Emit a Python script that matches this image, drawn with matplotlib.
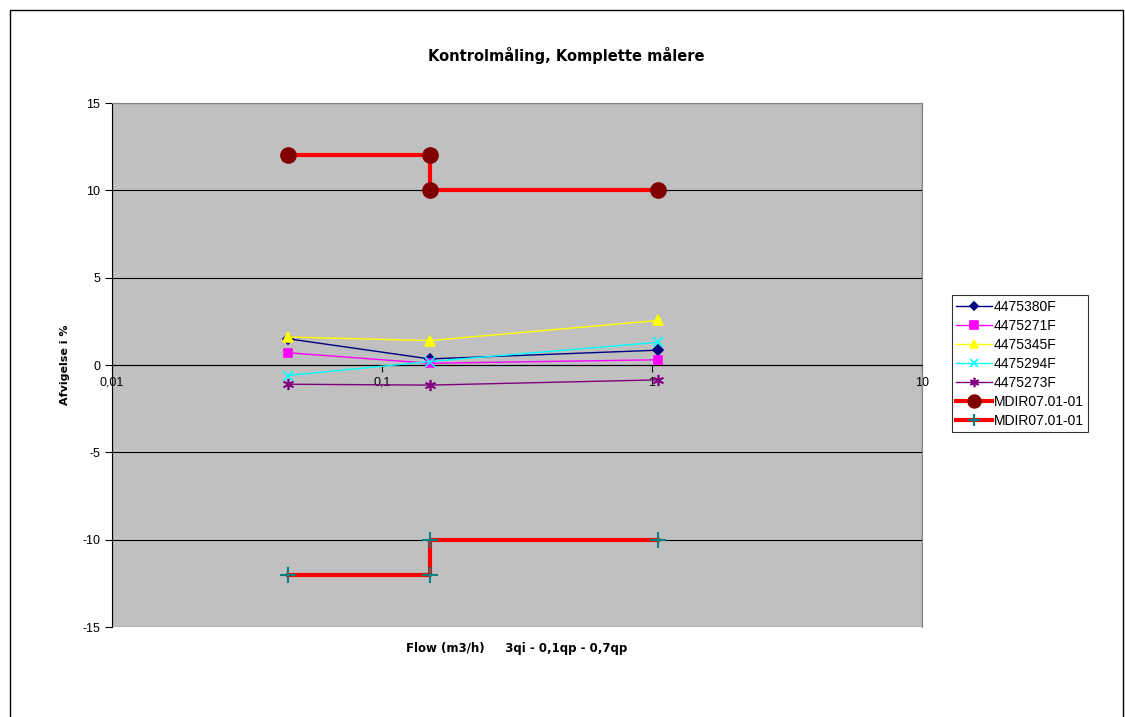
import numpy as np
import matplotlib.pyplot as plt
from matplotlib.patches import Rectangle
from matplotlib.ticker import FixedLocator, FixedFormatter, NullLocator

plt.rcParams['font.family'] = ['Liberation Sans', 'DejaVu Sans']
plt.rcParams['axes.unicode_minus'] = False

# flow points: 3qi - 0,1qp - 0,7qp
flow = [0.045, 0.15, 1.05]

meters = ['4475380F', '4475271F', '4475345F', '4475294F', '4475273F']
dev_380 = [1.5, 0.35, 0.85]
dev_271 = [0.7, 0.1, 0.3]
dev_345 = [1.6, 1.4, 2.55]
dev_294 = [-0.6, 0.2, 1.3]
dev_273 = [-1.1, -1.15, -0.85]

# MDIR limits (step lines)
lim_x = [0.045, 0.15, 0.15, 1.05]
lim_upper = [12, 12, 10, 10]
lim_lower = [-12, -12, -10, -10]

xticks = [0.01, 0.1, 1, 10]
xticklabels = ['0,01', '0,1', '1', '10']
yticks = [-15, -10, -5, 0, 5, 10, 15]

fig = plt.figure(figsize=(11.25, 7.17), dpi=100)
ax = fig.add_axes([0.0996, 0.1255, 0.72, 0.7308])
ax.set_facecolor('#C0C0C0')
ax.set_xscale('log')
ax.set_xlim(0.01, 10)
ax.set_ylim(-15, 15)

for y in yticks[1:-1]:
    ax.axhline(y, color='black', lw=0.8, zorder=1)

styles = [
    (dev_380, '#000080', 'D', 5),
    (dev_271, '#FF00FF', 's', 6),
    (dev_345, '#FFFF00', '^', 7),
    (dev_294, '#00FFFF', 'x', 7),
    (dev_273, '#800080', (6, 2, 0), 8),
]
for name, (vals, col, mk, ms) in zip(meters, styles):
    ax.plot(flow, vals, color=col, lw=1, marker=mk, ms=ms,
            mfc=col, mec=col, mew=1.2, label=name, zorder=3)

ax.plot(lim_x, lim_upper, color='#FF0000', lw=3, marker='o', ms=11,
        mfc='#800000', mec='#800000', label='MDIR07.01-01', zorder=4)
ax.plot(lim_x, lim_lower, color='#FF0000', lw=3, marker='+', ms=11,
        mec='#008080', mew=1.5, label='MDIR07.01-01', zorder=4)

ax.xaxis.set_major_locator(FixedLocator(xticks))
ax.xaxis.set_major_formatter(FixedFormatter(xticklabels))
ax.xaxis.set_minor_locator(NullLocator())
ax.set_yticks(yticks)
ax.tick_params(axis='both', labelsize=9, direction='out', length=5, width=0.8)

ax.spines['bottom'].set_position(('data', 0))
ax.spines['bottom'].set_linewidth(0.8)
ax.spines['left'].set_linewidth(0.8)
for s in ['top', 'right']:
    ax.spines[s].set_color('#808080')
ax.add_patch(Rectangle((0, 0), 1, 1, transform=ax.transAxes, fill=False,
                       edgecolor='#808080', lw=1, zorder=0.5))

bold_font = ['DejaVu Sans']
ax.set_ylabel('Afvigelse i %', fontsize=8, fontweight='bold', labelpad=9,
              family=bold_font)
fig.text(0.4596, 0.096, 'Flow (m3/h)     3qi - 0,1qp - 0,7qp',
         ha='center', va='center', fontsize=8.5, fontweight='bold',
         family=bold_font)
fig.text(0.503, 0.923, 'Kontrolmåling, Komplette målere',
         ha='center', va='center', fontsize=10.5, fontweight='bold',
         family=bold_font)

leg = fig.legend(loc='upper left', bbox_to_anchor=(0.846, 0.588), fontsize=10,
                 frameon=True, fancybox=False, edgecolor='black',
                 handlelength=2.6, borderpad=0.3, labelspacing=0.36,
                 handletextpad=0.15, borderaxespad=0, markerscale=0.85)
leg.get_frame().set_linewidth(0.8)

fig.add_artist(Rectangle((0.009, -0.1), 0.989, 1.086, transform=fig.transFigure,
                         fill=False, edgecolor='black', lw=1))

fig.savefig('out.png', dpi=100)
